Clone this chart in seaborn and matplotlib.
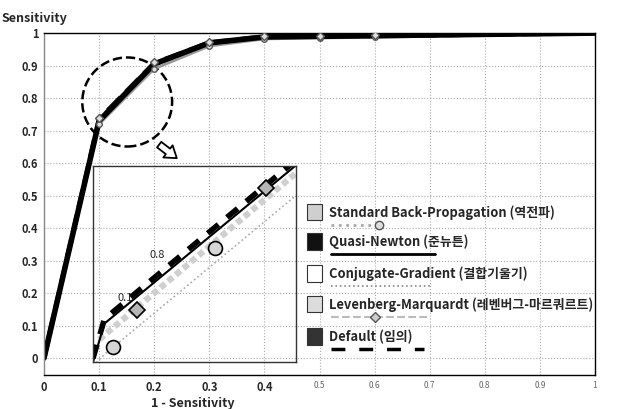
import matplotlib
matplotlib.use('Agg')
from matplotlib import pyplot as plt
from matplotlib.patches import Ellipse, Rectangle
import seaborn as sns

# ROC points (main view)
fpr = [0, 0.1, 0.2, 0.3, 0.4, 0.5, 0.6, 1.0]
sbp = [0, 0.72, 0.89, 0.96, 0.982, 0.985, 0.987, 1.0]
qn = [0, 0.73, 0.905, 0.97, 0.988, 0.99, 0.992, 1.0]
cg = [0, 0.725, 0.9, 0.966, 0.985, 0.988, 0.99, 1.0]
lm = [0, 0.74, 0.91, 0.972, 0.99, 0.992, 0.993, 1.0]
dflt = [0, 0.735, 0.907, 0.97, 0.989, 0.991, 0.992, 1.0]

# zoomed (inset) view
in_x = [0.08, 0.089, 0.25]
in_qn = [0.68, 0.731, 0.955]
in_dflt = [0.685, 0.737, 0.962]
in_cg = [0.675, 0.69, 0.915]
in_sbp_x = [0.085, 0.25]
in_sbp = [0.71, 0.945]
sbp_mk_x = [0.096, 0.176]
sbp_mk_y = [0.70, 0.831]
lm_mk_x = [0.115, 0.216]
lm_mk_y = [0.749, 0.911]

labels = ['Standard Back-Propagation (역전파)', 'Quasi-Newton (준뉴튼)',
          'Conjugate-Gradient (결합기울기)', 'Levenberg-Marquardt (레벤버그-마르쿼르트)',
          'Default (임의)']

sns.set_style('white')
plt.rcParams['font.family'] = ['Noto Sans CJK KR', 'DejaVu Sans']

fig = plt.figure(figsize=(6.25, 4.09), dpi=100)
ax = fig.add_axes([0.0704, 0.0831, 0.8816, 0.836])

#main curves, thick black one on top, markers above that
sns.lineplot(x=fpr, y=sbp, ax=ax, color='#9a9a9a', lw=2)
sns.lineplot(x=fpr, y=cg, ax=ax, color='#777777', lw=1.5, linestyle=':')
sns.lineplot(x=fpr, y=lm, ax=ax, color='#bbbbbb', lw=1.5, linestyle='--')
sns.lineplot(x=fpr, y=dflt, ax=ax, color='#222222', lw=3.5, linestyle='--')
sns.lineplot(x=fpr, y=qn, ax=ax, color='black', lw=4)
ax.plot(fpr[1:7], sbp[1:7], 'o', ms=4, mfc='#dddddd', mec='#555555', zorder=4)
ax.plot(fpr[1:7], lm[1:7], 'D', ms=4, mfc='#dddddd', mec='#555555', zorder=4)

ax.set_xlim(0, 1)
ax.set_ylim(-0.052, 1)
ax.set_xticks([i / 10 for i in range(11)])
ax.set_yticks([i / 10 for i in range(11)])
ax.set_xticklabels(['0', '0.1', '0.2', '0.3', '0.4', '0.5', '0.6', '0.7', '0.8', '0.9', '1'])
ax.set_yticklabels(['0', '0.1', '0.2', '0.3', '0.4', '0.5', '0.6', '0.7', '0.8', '0.9', '1'],
                   fontweight='bold', fontsize=8)
for i, t in enumerate(ax.get_xticklabels()):
    if i < 5:
        t.set_fontweight('bold')
        t.set_fontsize(8)
    else:
        t.set_fontsize(6)
        t.set_color('#666666')
ax.tick_params(length=2, pad=2)
ax.grid(True, color='#aaaaaa', ls=':', lw=0.8)
for s in ax.spines.values():
    s.set_color('black')
    s.set_linewidth(1)
ax.spines['left'].set_color('#888888')

ax.set_xlabel('1 - Sensitivity', fontweight='bold', fontsize=9, labelpad=4)
ax.xaxis.set_label_coords(0.27, -0.065)
fig.text(0.003, 0.945, 'Sensitivity', fontweight='bold', fontsize=9)

# dashed circle + arrow
ax.add_patch(Ellipse((0.151, 0.788), 0.163, 0.274, fill=False, ls='--', lw=1.8, ec='black'))
ax.annotate('', xy=(0.245, 0.61), xytext=(0.205, 0.662),
            arrowprops=dict(arrowstyle='simple,head_width=1.1,head_length=0.8,tail_width=0.5',
                            fc='white', ec='black', lw=1.3))

# inset
ins = fig.add_axes([0.1488, 0.1149, 0.3248, 0.479])
ins.patch.set_alpha(0)
sns.lineplot(x=in_sbp_x, y=in_sbp, ax=ins, color='#cfcfcf', lw=4.5, linestyle=(0, (1, 0.6)))
sns.lineplot(x=in_x, y=in_cg, ax=ins, color='#aaaaaa', lw=1.2, linestyle=':')
sns.lineplot(x=in_x, y=in_qn, ax=ins, color='black', lw=1.5)
sns.lineplot(x=in_x, y=in_dflt, ax=ins, color='black', lw=4, linestyle=(0, (2.5, 2)))
ins.plot(sbp_mk_x, sbp_mk_y, 'o', ms=10, mfc='#d5d5d5', mec='black', mew=1.2)
ins.plot(lm_mk_x, lm_mk_y, 'D', ms=8, mfc='#b5b5b5', mec='black', mew=1.2)
ins.set_xlim(0.08, 0.24)
ins.set_ylim(0.68, 0.94)
ins.set_xticks([])
ins.set_yticks([])
for s in ins.spines.values():
    s.set_color('#333333')
    s.set_linewidth(1)
ins.text(0.28, 0.53, '0.8', transform=ins.transAxes, fontsize=8)
ins.text(0.12, 0.31, '0.1', transform=ins.transAxes, fontsize=8)

# legend drawn in axes fraction
fills = ['#cfcfcf', '#111111', 'white', '#dcdcdc', '#333333']
row_y = [0.474, 0.389, 0.295, 0.205, 0.111]
for i in range(5):
    y = row_y[i]
    ax.add_patch(Rectangle((0.477, y - 0.022), 0.028, 0.048, transform=ax.transAxes,
                           fc=fills[i], ec='#333333', lw=0.8, zorder=5))
    ax.text(0.517, y, labels[i], transform=ax.transAxes, fontsize=9.3, fontweight='bold',
            va='center', zorder=6)
sy = [r - 0.035 for r in row_y]
ax.plot([0.52, 0.61], [sy[0]] * 2, transform=ax.transAxes, color='#aaaaaa', lw=2, ls=':')
ax.plot([0.608], [sy[0]], transform=ax.transAxes, marker='o', ms=6, mfc='#dddddd', mec='#555555')
ax.plot([0.52, 0.71], [sy[1]] * 2, transform=ax.transAxes, color='black', lw=2)
ax.plot([0.52, 0.70], [sy[2]] * 2, transform=ax.transAxes, color='#888888', lw=1.2, ls=':')
ax.plot([0.52, 0.70], [sy[3]] * 2, transform=ax.transAxes, color='#bbbbbb', lw=1.5, ls='--')
ax.plot([0.60], [sy[3]], transform=ax.transAxes, marker='D', ms=5, mfc='#cccccc', mec='#555555')
ax.plot([0.52, 0.69], [sy[4]] * 2, transform=ax.transAxes, color='black', lw=2.5, ls=(0, (4, 4)))

fig.savefig('out.png', dpi=100)
